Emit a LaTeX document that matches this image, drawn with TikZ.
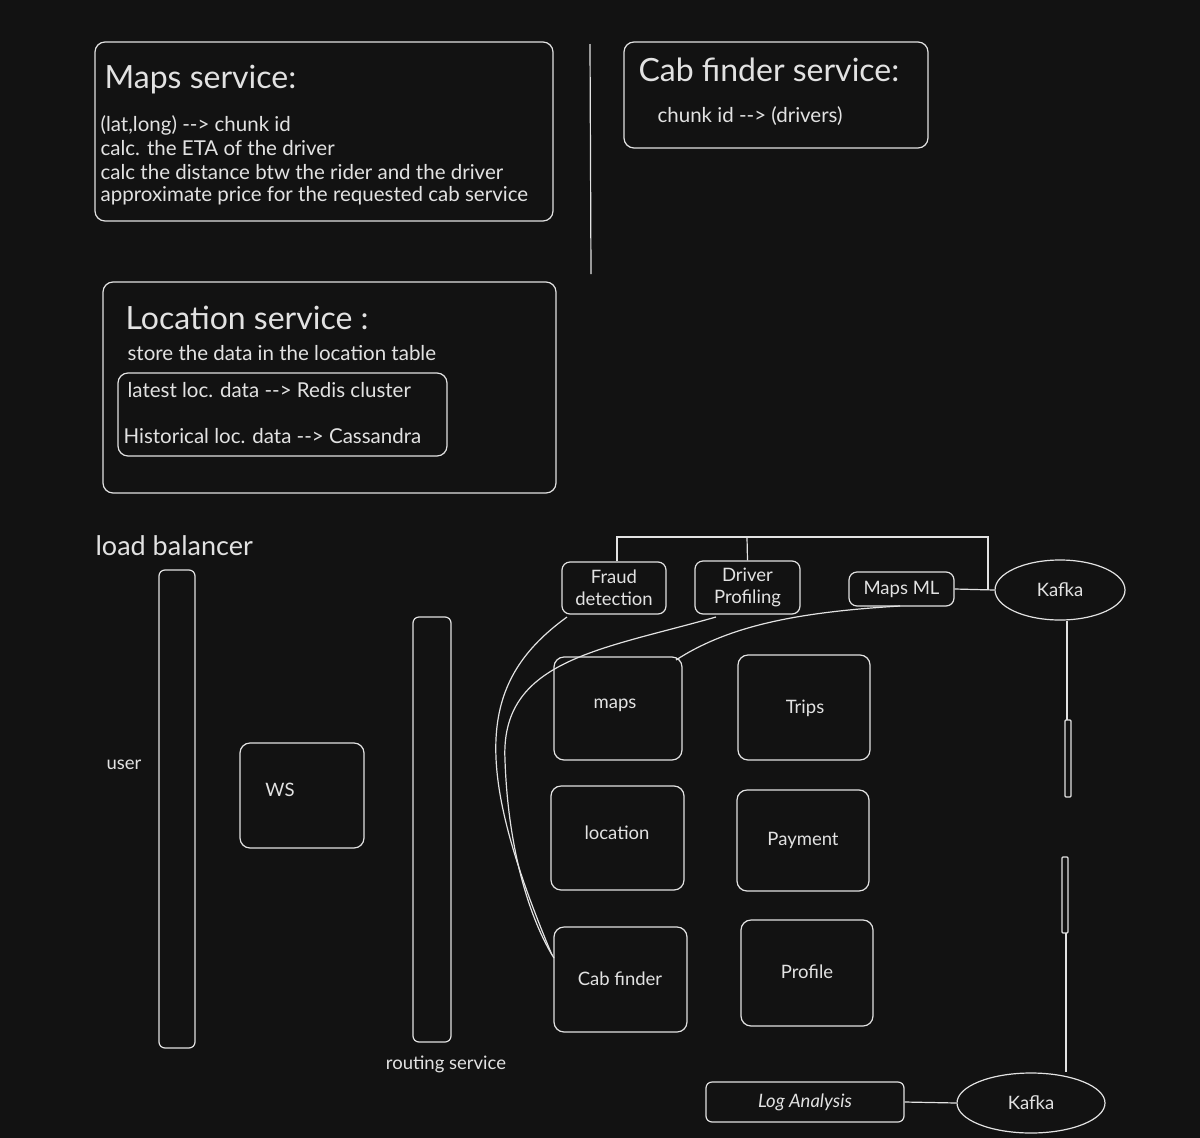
\documentclass[tikz,border=0pt]{standalone}
\usepackage{fontspec}
\usetikzlibrary{shapes.geometric}
\setmainfont{Lato}
\definecolor{fg}{HTML}{E2E2E2}
\definecolor{bg}{HTML}{121212}
\begin{document}
\begin{tikzpicture}[x=1pt,y=-1pt,color=fg,line width=1.2pt,
  bx/.style={draw=fg,rounded corners=10pt,line width=1.2pt},
  lbl/.style={text=fg,inner sep=0pt},
  big/.style={lbl,anchor=west,font=\fontsize{32}{36}\selectfont},
  txt/.style={lbl,anchor=west,font=\fontsize{20.5}{24}\selectfont},
  sm/.style={lbl,align=center,font=\fontsize{18.5}{22}\selectfont}]
\fill[bg] (0,0) rectangle (1200,1138);
\useasboundingbox (0,0) rectangle (1200,1138);
% Maps service
\draw[bx] (95,42) rectangle (553,221);
\node[big] (mt) at (104,80) {Maps service:};
\node[txt] (m1) at (100,125) {(lat,long) {-}{-}> chunk id};
\node[txt] (m2) at (100,148) {calc. the ETA of the driver};
\node[txt] (m3) at (100,172) {calc the distance btw the rider and the driver};
\node[txt] (m4) at (100,196) {approximate price for the requested cab service};
\draw (590,44) -- (591,274);
% Cab finder service
\draw[bx] (624,42) rectangle (928,148);
\node[big] (ct) at (638,70) {Cab finder service:};
\node[txt] (c1) at (657,116) {chunk id {-}{-}> (drivers)};
% Location service
\draw[bx] (103,282) rectangle (556,493);
\node[big] (lt) at (125,318) {Location service :};
\node[txt] (l1) at (127,353) {store the data in the location table};
\draw[bx] (118,373) rectangle (447,456);
\node[txt] (l2) at (127,390) {latest loc. data {-}{-}> Redis cluster};
\node[txt] (l3) at (123,436) {Historical loc. data {-}{-}> Cassandra};
% left column
\node[lbl,anchor=west,font=\fontsize{27}{30}\selectfont] (lb) at (95,546) {load balancer};
\draw[bx,rounded corners=6pt] (159,570) rectangle (195,1048);
\node[sm] (user) at (124,765) {user};
\node[bx,minimum width=124pt,minimum height=105pt] (ws) at (302,795.5) {};
\node[sm] at (280,790) {WS};
\draw[bx,rounded corners=6pt] (413,617) rectangle (451,1042);
\node[sm] (rs) at (446,1064) {routing service};
% services
\node[bx,minimum width=128pt,minimum height=103pt] (maps) at (618,708.5) {};
\node[sm] at (615,705) {maps};
\node[bx,minimum width=132pt,minimum height=105pt] (trips) at (804,707.5) {};
\node[sm] at (805,708) {Trips};
\node[bx,minimum width=133pt,minimum height=104pt] (loc) at (617.5,838) {};
\node[sm] at (617,833) {location};
\node[bx,minimum width=132pt,minimum height=101pt] (pay) at (803,840.5) {};
\node[sm] at (803,840) {Payment};
\node[bx,minimum width=133pt,minimum height=105pt] (cab) at (620.5,979.5) {};
\node[sm] at (620,979) {Cab finder};
\node[bx,minimum width=132pt,minimum height=106pt] (prof) at (807,973) {};
\node[sm] at (807,972) {Profile};
% ML row
\node[bx,rounded corners=8pt,minimum width=104pt,minimum height=52pt,sm] (fraud) at (614,588) {Fraud\\detection};
\node[bx,rounded corners=8pt,minimum width=105pt,minimum height=53pt,sm] (drv) at (747.5,587.5) {Driver\\Profiling};
\node[bx,rounded corners=8pt,minimum width=105pt,minimum height=34pt,sm] (mml) at (901.5,589) {Maps ML};
\node[draw=fg,line width=1.2pt,ellipse,inner sep=0pt,minimum width=130pt,minimum height=60pt,sm] (k1) at (1060,590) {Kafka};
\node[draw=fg,line width=1.2pt,ellipse,inner sep=0pt,minimum width=148pt,minimum height=60pt,sm] (k2) at (1031,1103) {Kafka};
\node[bx,rounded corners=6pt,minimum width=198pt,minimum height=40pt,sm] (log) at (805,1102) {\itshape Log Analysis};
% connectors
\coordinate (t1) at (617,537); \coordinate (t2) at (988,537);
\draw (fraud.north -| t1) -- (t1) -- (t2) -- (988,590);
\draw (drv.north) -- (747,537);
\draw (mml.east) -- (k1.west);
\draw (k1.south -| 1067,0) -- (1067,720);
\draw[rounded corners=1pt] (1065,720) rectangle (1071,797);
\draw[rounded corners=1pt] (1062,857) rectangle (1068,933);
\draw (1066,933) -- (k2.north -| 1066,0);
\draw (log.east) -- (k2.west);
\draw (567,617) .. controls (480,680) and (470,760) .. (552,955);
\draw (716,617) .. controls (600,650) and (500,660) .. (505,760) .. controls (508,850) and (530,920) .. (554,958);
\draw (900,606) .. controls (800,612) and (730,625) .. (676,660);
\end{tikzpicture}
\end{document}
